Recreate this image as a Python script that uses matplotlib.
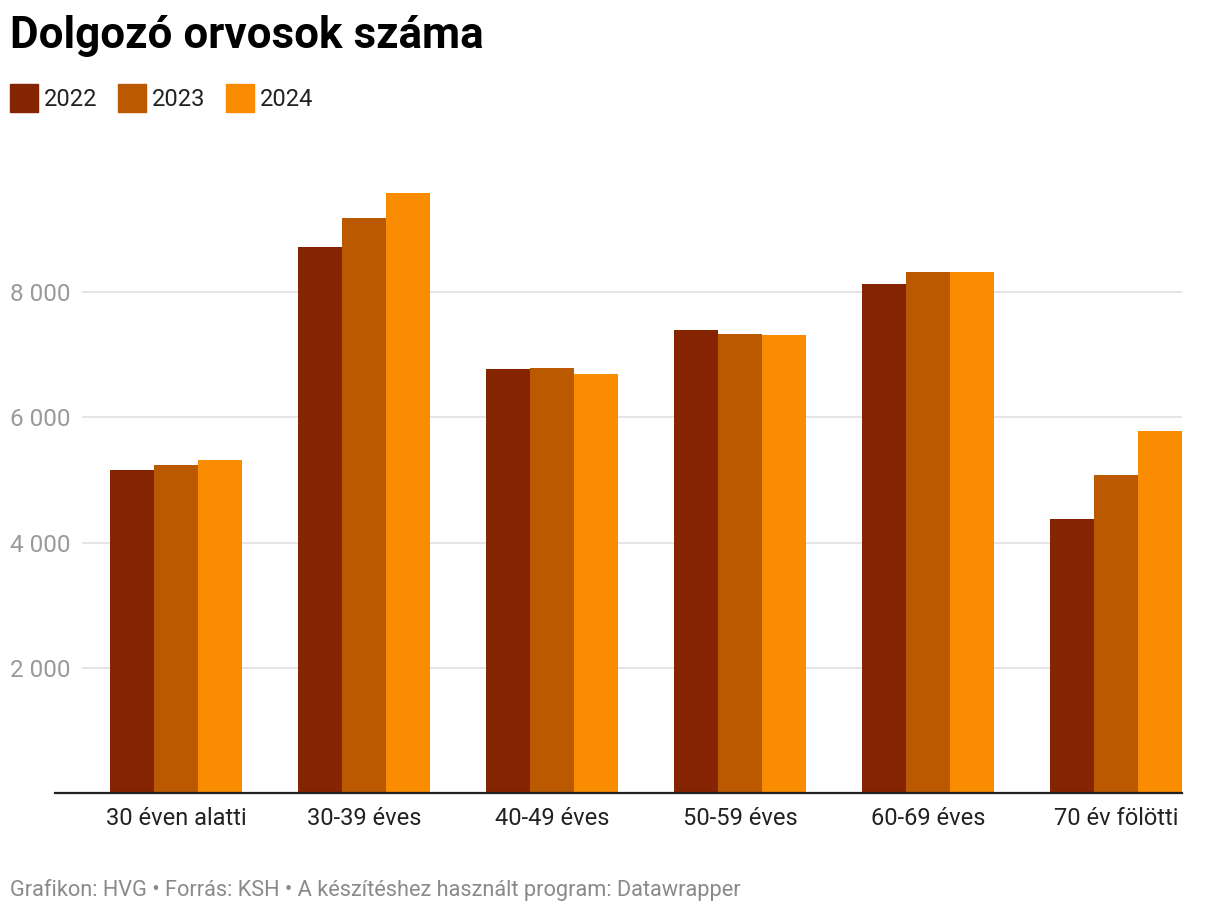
import matplotlib
matplotlib.use("Agg")
import matplotlib.pyplot as plt
import numpy as np

categories = ["30 éven alatti", "30-39 éves", "40-49 éves", "50-59 éves", "60-69 éves", "70 év fölötti"]
years = ["2022", "2023", "2024"]
v2022 = [5160, 8720, 6770, 7395, 8130, 4375]
v2023 = [5240, 9190, 6790, 7330, 8320, 5080]
v2024 = [5320, 9580, 6690, 7315, 8320, 5780]
yticks = [2000, 4000, 6000, 8000]
ytick_labels = ["2 000", "4 000", "6 000", "8 000"]
colors = ["#852400", "#bb5900", "#f98c00"]

plt.rcParams['font.family'] = ['Roboto', 'DejaVu Sans']

W, H = 1220, 914
fig = plt.figure(figsize=(W / 100, H / 100), dpi=100)

ax_left, ax_right = 82, 1182
ax_top, ax_bottom = 179.4, 793
ax = fig.add_axes([ax_left / W, (H - ax_bottom) / H, (ax_right - ax_left) / W, (ax_bottom - ax_top) / H])

x = np.arange(len(categories))
bw = 44 / 188
for i, (vals, c) in enumerate(zip([v2022, v2023, v2024], colors)):
    ax.bar(x + (i - 1) * bw, vals, width=bw, color=c, linewidth=0, zorder=3)

ax.set_xlim(-0.5, (1182 - 176) / 188)
ax.set_ylim(0, 9800)

ax.set_yticks(yticks)
ax.set_yticklabels(ytick_labels)
ax.grid(axis='y', color='#e3e3e3', linewidth=1.3, zorder=0)
ax.tick_params(axis='y', length=0, pad=8.5, labelsize=17.5, labelcolor='#9a9a9a')
ax.set_xticks(x)
ax.set_xticklabels(categories)
ax.tick_params(axis='x', length=0, pad=10, labelsize=17, labelcolor='#222222')
for s in ax.spines.values():
    s.set_visible(False)

ax.axhline(0, xmin=(55 - ax_left) / (ax_right - ax_left), xmax=1, color='#222222', lw=1.6, clip_on=False, zorder=4)

# Title
fig.text(10 / W, 1 - 48 / H, "Dolgozó orvosok száma", fontsize=31.7, fontweight='bold', color='#000000', va='baseline', ha='left')

# Legend
sq = 28
lx = [10, 118, 226]
for xx, c, lab in zip(lx, colors, years):
    fig.patches.append(plt.Rectangle((xx / W, 1 - 112 / H), sq / W, sq / H, transform=fig.transFigure, color=c, figure=fig))
    fig.text((xx + 34) / W, 1 - 99 / H, lab, fontsize=17, color='#222222', va='center', ha='left')

# Footer
fig.text(10 / W, 1 - 890 / H, "Grafikon: HVG • Forrás: KSH • A készítéshez használt program: Datawrapper",
         fontsize=15.7, color='#8a8a8a', va='center', ha='left')

fig.savefig("out.png", dpi=100, facecolor='white')
